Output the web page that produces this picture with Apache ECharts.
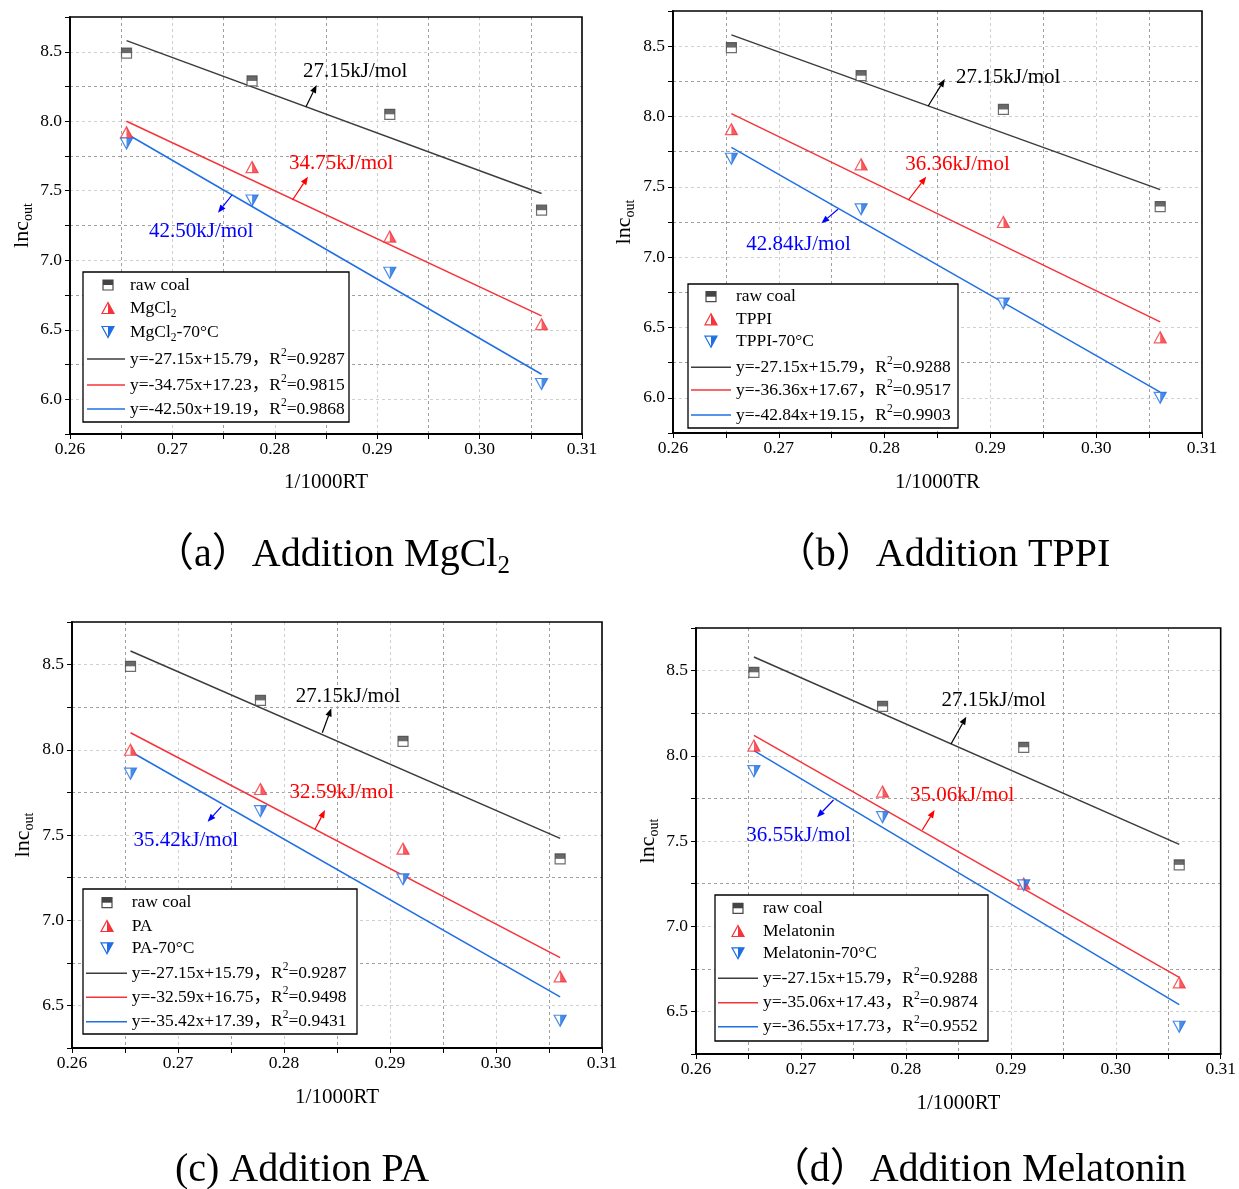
<!DOCTYPE html>
<html><head><meta charset="utf-8">
<script src="https://cdn.jsdelivr.net/npm/echarts@6/dist/echarts.min.js"></script>
<style>html,body{margin:0;padding:0;background:#fff}#c{width:1239px;height:1189px}</style>
</head><body><div id="c"></div>
<script>
// ---------- data ----------
const xValues = [0.26552, 0.27778, 0.29123, 0.30605];       // 1/1000RT of the four temperatures
const fitX = [0.26552, 0.30605];                              // x extent of fitted lines
const rawCoal = [8.49, 8.29, 8.05, 7.36];
const mgcl2 = [7.92, 7.67, 7.17, 6.54];
const mgcl2_70 = [7.84, 7.43, 6.91, 6.11];
const tppi = [7.91, 7.66, 7.25, 6.43];
const tppi_70 = [7.70, 7.34, 6.67, 6.00];
const pa = [8.00, 7.77, 7.42, 6.67];
const pa_70 = [7.86, 7.64, 7.24, 6.41];
const melatonin = [8.06, 7.79, 7.25, 6.67];
const melatonin_70 = [7.91, 7.64, 7.24, 6.41];
// fitted line end values (at fitX)
const fitRaw = [8.58, 7.48];
const fitMgcl2 = [8.00, 6.60];
const fitMgcl2_70 = [7.91, 6.18];
const fitTppi = [8.02, 6.54];
const fitTppi_70 = [7.78, 6.04];
const fitPa = [8.10, 6.78];
const fitPa_70 = [7.99, 6.55];
const fitMel = [8.12, 6.70];
const fitMel_70 = [8.03, 6.54];
// texts
const additiveNames = ['MgCl{s|2}', 'TPPI', 'PA', 'Melatonin'];
const captions = ['（a）Addition MgCl{s|2}', '（b）Addition TPPI', '(c) Addition PA', '（d）Addition Melatonin'];
const xTitles = ['1/1000RT', '1/1000TR', '1/1000RT', '1/1000RT'];
const eqA = ['y=-27.15x+15.79，R{p|2}=0.9287', 'y=-34.75x+17.23，R{p|2}=0.9815', 'y=-42.50x+19.19，R{p|2}=0.9868'];
const eqB = ['y=-27.15x+15.79，R{p|2}=0.9288', 'y=-36.36x+17.67，R{p|2}=0.9517', 'y=-42.84x+19.15，R{p|2}=0.9903'];
const eqC = ['y=-27.15x+15.79，R{p|2}=0.9287', 'y=-32.59x+16.75，R{p|2}=0.9498', 'y=-35.42x+17.39，R{p|2}=0.9431'];
const eqD = ['y=-27.15x+15.79，R{p|2}=0.9288', 'y=-35.06x+17.43，R{p|2}=0.9874', 'y=-36.55x+17.73，R{p|2}=0.9552'];
const eaA = ['27.15kJ/mol', '34.75kJ/mol', '42.50kJ/mol'];
const eaB = ['27.15kJ/mol', '36.36kJ/mol', '42.84kJ/mol'];
const eaC = ['27.15kJ/mol', '32.59kJ/mol', '35.42kJ/mol'];
const eaD = ['27.15kJ/mol', '35.06kJ/mol', '36.55kJ/mol'];
const xAxisMin = 0.26, xAxisMax = 0.31, xStep = 0.005;
const yAxisMaxes = [8.75, 8.75, 8.75, 8.75];
const yAxisMins = [5.75, 5.75, 6.25, 6.25];
const yStep = 0.25;

// ---------- layout / styles ----------
const FONT = '"Liberation Serif", "Times New Roman", "Noto Sans CJK SC", serif';
const GRAY = '#3c3c3c', RED = '#f5333a', BLUE = '#1f6fe3';
const TXT = ['#000000', '#ff0000', '#0000ff'];

const panels = [
  { grid: {left: 70, top: 17, width: 512, height: 417}, xGap: 38, yGap: 35,
    red: mgcl2, blue: mgcl2_70, fitR: fitMgcl2, fitB: fitMgcl2_70, eq: eqA, ea: eaA,
    box: [83, 272, 349, 422], rows: [285, 308, 332, 359, 385, 409], symX: 108, textX: 130, lx: [87, 125],
    ann: [[303, 71.7, 306, 106.7, 316.6, 85], [289, 163.3, 292.5, 200, 308, 176.7], [149, 231.7, 232, 195, 218, 212.7]],
    cap: [332, 555] },
  { grid: {left: 673, top: 11, width: 529, height: 422}, xGap: 39, yGap: 36,
    red: tppi, blue: tppi_70, fitR: fitTppi, fitB: fitTppi_70, eq: eqB, ea: eaB,
    box: [688, 284, 958, 428], rows: [296.7, 319.3, 341.7, 367.3, 390, 415], symX: 711, textX: 736, lx: [691, 731],
    ann: [[956, 77.3, 928.2, 106, 944.8, 79], [905.3, 164, 908.4, 200, 926.2, 176.7], [746.3, 244, 838, 209.3, 821.4, 223.3]],
    cap: [943, 555] },
  { grid: {left: 72, top: 622, width: 530, height: 426}, xGap: 39, yGap: 36,
    red: pa, blue: pa_70, fitR: fitPa, fitB: fitPa_70, eq: eqC, ea: eaC,
    box: [83, 889, 357, 1034], rows: [902.7, 926, 948.3, 973.3, 997.3, 1021.7], symX: 107, textX: 131.7, lx: [86, 127],
    ann: [[295.8, 696, 322.3, 732.7, 331.3, 708.3], [289.4, 792.7, 315, 829.3, 325, 810], [133.6, 840.7, 221.4, 806.7, 207.6, 821.7]],
    cap: [302, 1170] },
  { grid: {left: 696, top: 628, width: 528, height: 426}, xGap: 39, yGap: 35,
    red: melatonin, blue: melatonin_70, fitR: fitMel, fitB: fitMel_70, eq: eqD, ea: eaD,
    box: [715, 895, 988, 1041], rows: [908.3, 931, 953.3, 978.3, 1002.7, 1026.7], symX: 738, textX: 763, lx: [718, 758],
    ann: [[941.5, 700, 951, 744, 966.3, 716.7], [910, 795, 922.3, 830, 934.6, 810], [746.3, 835, 833.5, 800, 817, 817.3]],
    cap: [978, 1170] }
];

const richSmall = {
  n: {fontSize: 17.5, fontFamily: FONT, lineHeight: 24, color: '#000'},
  s: {fontSize: 11.5, fontFamily: FONT, lineHeight: 12, verticalAlign: 'bottom', color: '#000'},
  p: {fontSize: 11.5, fontFamily: FONT, lineHeight: 12, verticalAlign: 'top', color: '#000'}
};
function wrapRich(t) { // wrap plain parts into {n|...}
  return t.split(/(\{[sp]\|[^}]*\})/).filter(x => x).map(x => x.startsWith('{') ? x : '{n|' + x + '}').join('');
}

const grids = [], xAxes = [], yAxes = [], series = [], graphics = [];
const isMult = (v, step) => Math.abs(v / step - Math.round(v / step)) < 1e-6;
const SQ = 10, TW = 12, TH = 11;

panels.forEach((p, i) => {
  grids.push(Object.assign({show: true, borderColor: '#000', borderWidth: 1.6, backgroundColor: 'transparent', z: 5}, p.grid));
  xAxes.push({
    gridIndex: i, type: 'value', min: xAxisMin, max: xAxisMax, interval: xStep,
    axisLine: {show: true, onZero: false, lineStyle: {color: '#000', width: 1.8}},
    axisTick: {show: true, length: 5, lineStyle: {color: '#000', width: 1}},
    axisLabel: {color: '#000', fontSize: 17.5, fontFamily: FONT, margin: 7,
      formatter: v => isMult(v, 0.01) ? v.toFixed(2) : ''},
    splitLine: {show: true, showMinLine: false, showMaxLine: false,
      lineStyle: {color: ['#a0a0a0', '#cfcfcf'], type: [3, 3], width: 1}},
    name: xTitles[i], nameLocation: 'middle', nameGap: p.xGap,
    nameTextStyle: {color: '#000', fontSize: 21, fontFamily: FONT}
  });
  yAxes.push({
    gridIndex: i, type: 'value', min: yAxisMins[i], max: yAxisMaxes[i], interval: yStep,
    axisLine: {show: true, onZero: false, lineStyle: {color: '#000', width: 1.8}},
    axisTick: {show: true, length: 5, lineStyle: {color: '#000', width: 1}},
    axisLabel: {color: '#000', fontSize: 17.5, fontFamily: FONT, margin: 8,
      formatter: v => isMult(v, 0.5) ? v.toFixed(1) : ''},
    splitLine: {show: true, showMinLine: false, showMaxLine: false,
      lineStyle: {color: ['#cfcfcf', '#a0a0a0'], type: [3, 3], width: 1}},
    name: '{a|lnc}{b|out}', nameLocation: 'middle', nameGap: p.yGap, nameRotate: 90,
    nameTextStyle: {rich: {
      a: {fontSize: 22, fontFamily: FONT, color: '#000', lineHeight: 26},
      b: {fontSize: 14, fontFamily: FONT, color: '#000', lineHeight: 12, verticalAlign: 'bottom'}
    }}
  });
  const ax = {xAxisIndex: i, yAxisIndex: i, silent: true, animation: false};
  const pts = arr => xValues.map((x, k) => [x, arr[k]]);
  const seg = arr => fitX.map((x, k) => [x, arr[k]]);
  // fitted lines
  [[fitRaw, GRAY], [p.fitR, RED], [p.fitB, BLUE]].forEach(([d, c]) => series.push(Object.assign({
    type: 'line', data: seg(d), symbol: 'none', z: 2, lineStyle: {color: c, width: 1.5}}, ax)));
  // raw coal squares (top half filled)
  series.push(Object.assign({type: 'scatter', data: pts(rawCoal), symbol: 'rect', symbolSize: SQ, z: 3,
    itemStyle: {color: '#fff', borderColor: '#4a4a4a', borderWidth: 1.2}}, ax));
  series.push(Object.assign({type: 'scatter', data: pts(rawCoal), symbol: 'rect', symbolSize: [SQ, SQ / 2], symbolOffset: [0, -SQ / 4], z: 4,
    itemStyle: {color: '#444'}}, ax));
  // red up triangles (right half filled)
  series.push(Object.assign({type: 'scatter', data: pts(p.red), symbol: 'triangle', symbolSize: [TW, TH], z: 3,
    itemStyle: {color: '#fff', borderColor: RED, borderWidth: 1.2}}, ax));
  series.push(Object.assign({type: 'scatter', data: pts(p.red), symbol: 'path://M0,0 L10,20 L0,20 Z', symbolSize: [TW / 2, TH], symbolOffset: [TW / 4, 0], z: 4,
    itemStyle: {color: RED}}, ax));
  // blue down triangles (right half filled)
  series.push(Object.assign({type: 'scatter', data: pts(p.blue), symbol: 'path://M0,0 L20,0 L10,20 Z', symbolSize: [TW, TH], z: 3,
    itemStyle: {color: '#fff', borderColor: BLUE, borderWidth: 1.2}}, ax));
  series.push(Object.assign({type: 'scatter', data: pts(p.blue), symbol: 'path://M0,0 L10,0 L0,20 Z', symbolSize: [TW / 2, TH], symbolOffset: [TW / 4, 0], z: 4,
    itemStyle: {color: BLUE}}, ax));

  // ---- legend box ----
  const [bx0, by0, bx1, by1] = p.box;
  graphics.push({type: 'rect', z: 30, shape: {x: bx0, y: by0, width: bx1 - bx0, height: by1 - by0},
    style: {fill: '#fff', stroke: '#000', lineWidth: 1.3}});
  const sx = p.symX, r = p.rows, h = SQ / 2, tw = TW / 2, th = TH / 2;
  graphics.push({type: 'rect', z: 31, shape: {x: sx - h, y: r[0] - h, width: SQ, height: SQ}, style: {fill: '#fff', stroke: '#4a4a4a', lineWidth: 1.2}});
  graphics.push({type: 'rect', z: 32, shape: {x: sx - h, y: r[0] - h, width: SQ, height: h}, style: {fill: '#444'}});
  graphics.push({type: 'polygon', z: 31, shape: {points: [[sx, r[1] - th], [sx + tw, r[1] + th], [sx - tw, r[1] + th]]}, style: {fill: '#fff', stroke: RED, lineWidth: 1.2}});
  graphics.push({type: 'polygon', z: 32, shape: {points: [[sx, r[1] - th], [sx + tw, r[1] + th], [sx, r[1] + th]]}, style: {fill: RED}});
  graphics.push({type: 'polygon', z: 31, shape: {points: [[sx - tw, r[2] - th], [sx + tw, r[2] - th], [sx, r[2] + th]]}, style: {fill: '#fff', stroke: BLUE, lineWidth: 1.2}});
  graphics.push({type: 'polygon', z: 32, shape: {points: [[sx, r[2] - th], [sx + tw, r[2] - th], [sx, r[2] + th]]}, style: {fill: BLUE}});
  [GRAY, RED, BLUE].forEach((c, k) => graphics.push({type: 'line', z: 31,
    shape: {x1: p.lx[0], y1: r[3 + k], x2: p.lx[1], y2: r[3 + k]}, style: {stroke: c, lineWidth: 1.5}}));
  const labels = ['raw coal', additiveNames[i], additiveNames[i] + '-70°C'].concat(p.eq);
  labels.forEach((t, k) => graphics.push({type: 'text', z: 33,
    style: {text: wrapRich(t), x: p.textX, y: r[k], verticalAlign: 'middle', align: 'left',
      fontSize: 17.5, fontFamily: FONT, fill: '#000', rich: richSmall}}));

  // ---- activation energy annotations ----
  p.ann.forEach((a, k) => {
    const [tx, ty, x1, y1, x2, y2] = a;
    const c = TXT[k];
    graphics.push({type: 'text', z: 25, style: {text: p.ea[k], x: tx, y: ty, verticalAlign: 'middle', align: 'left',
      fontSize: 21, fontFamily: FONT, fill: c}});
    const dx = x2 - x1, dy = y2 - y1, L = Math.hypot(dx, dy), ux = dx / L, uy = dy / L, hl = 8, hw = 3.2;
    const hx = x2 - ux * hl, hy = y2 - uy * hl;
    graphics.push({type: 'line', z: 25, shape: {x1: x1, y1: y1, x2: hx, y2: hy}, style: {stroke: c, lineWidth: 1.2}});
    graphics.push({type: 'polygon', z: 25, shape: {points: [[x2, y2], [hx - uy * hw, hy + ux * hw], [hx + uy * hw, hy - ux * hw]]}, style: {fill: c}});
  });

  // ---- caption ----
  graphics.push({type: 'text', z: 25, style: {text: wrapRich(captions[i]).replace(/\{n\|/g, '{c|').replace(/\{s\|/g, '{t|'),
    x: p.cap[0], y: p.cap[1], align: 'center', verticalAlign: 'middle', fontSize: 40, fontFamily: FONT, fill: '#000',
    rich: {c: {fontSize: 40, fontFamily: FONT, lineHeight: 48, color: '#000'},
           t: {fontSize: 25, fontFamily: FONT, lineHeight: 19, verticalAlign: 'bottom', color: '#000'}}}});
});

const chart = echarts.init(document.getElementById('c'), null, {renderer: 'canvas'});
chart.setOption({
  backgroundColor: '#fff',
  animation: false,
  grid: grids,
  xAxis: xAxes,
  yAxis: yAxes,
  series: series,
  graphic: {elements: graphics}
});
</script>
</body></html>
